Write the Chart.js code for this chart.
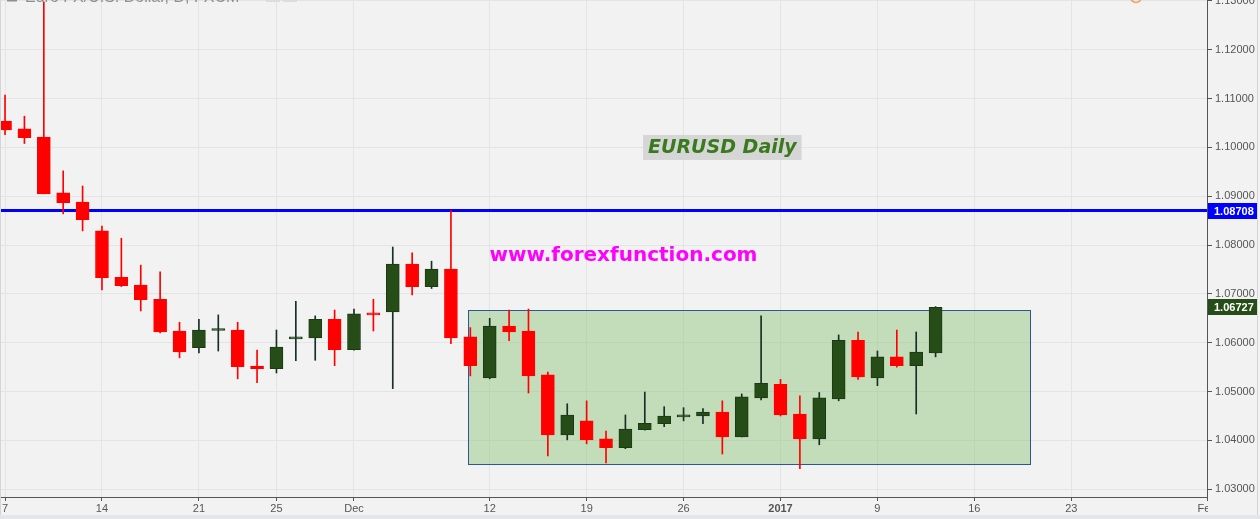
<!DOCTYPE html>
<html>
<head>
<meta charset="utf-8">
<title>EURUSD Daily</title>
<script src="https://cdn.jsdelivr.net/npm/chart.js@4.4.1/dist/chart.umd.min.js"></script>
<style>
    html, body { margin: 0; padding: 0; background: #f2f2f2; overflow: hidden; }
    #wrap { width: 1260px; height: 519px; position: relative; }
</style>
</head>
<body>
<div id="wrap"><canvas id="EurusdChart"></canvas></div>
<script>
// one slot per trading day, 7 Nov 2016 .. 12 Jan 2017
var days = [
    'Nov 7', 'Nov 8', 'Nov 9', 'Nov 10', 'Nov 11',
    'Nov 14', 'Nov 15', 'Nov 16', 'Nov 17', 'Nov 18',
    'Nov 21', 'Nov 22', 'Nov 23', 'Nov 24', 'Nov 25',
    'Nov 28', 'Nov 29', 'Nov 30', 'Dec 1', 'Dec 2',
    'Dec 5', 'Dec 6', 'Dec 7', 'Dec 8', 'Dec 9',
    'Dec 12', 'Dec 13', 'Dec 14', 'Dec 15', 'Dec 16',
    'Dec 19', 'Dec 20', 'Dec 21', 'Dec 22', 'Dec 23',
    'Dec 26', 'Dec 27', 'Dec 28', 'Dec 29', 'Dec 30',
    'Jan 2', 'Jan 3', 'Jan 4', 'Jan 5', 'Jan 6',
    'Jan 9', 'Jan 10', 'Jan 11', 'Jan 12'
];
var opens = [
    1.1054, 1.1038, 1.1021, 1.0907, 1.0888,
    1.0829, 1.0734, 1.0718, 1.0689, 1.0624,
    1.0590, 1.0625, 1.0626, 1.0552, 1.0547,
    1.0608, 1.0610, 1.0648, 1.0586, 1.0658,
    1.0663, 1.0761, 1.0715, 1.0751, 1.0612,
    1.0528, 1.0634, 1.0624, 1.0534, 1.0411,
    1.0440, 1.0403, 1.0385, 1.0422, 1.0434,
    1.0448, 1.0450, 1.0458, 1.0407, 1.0487,
    1.0515, 1.0454, 1.0403, 1.0485, 1.0605,
    1.0528, 1.0571, 1.0553, 1.0579
];
var highs = [
    1.1107, 1.1064, 1.1298, 1.0952, 1.0921,
    1.0839, 1.0814, 1.0759, 1.0745, 1.0642,
    1.0648, 1.0657, 1.0642, 1.0585, 1.0626,
    1.0685, 1.0655, 1.0667, 1.0669, 1.0689,
    1.0796, 1.0784, 1.0767, 1.08708, 1.0631,
    1.0650, 1.0667, 1.0669, 1.0540, 1.0475,
    1.0481, 1.0419, 1.0452, 1.0499, 1.0469,
    1.0467, 1.0465, 1.0481, 1.0495, 1.0655,
    1.0525, 1.0491, 1.0498, 1.0616, 1.0622,
    1.0583, 1.0626, 1.0622, 1.0674
];
var lows = [
    1.1026, 1.1008, 1.0905, 1.0864, 1.0829,
    1.0708, 1.0715, 1.0665, 1.0620, 1.0569,
    1.0579, 1.0583, 1.0526, 1.0518, 1.0538,
    1.0563, 1.0564, 1.0553, 1.0585, 1.0624,
    1.0506, 1.0698, 1.0711, 1.0598, 1.0532,
    1.0526, 1.0604, 1.0497, 1.0368, 1.0401,
    1.0393, 1.0354, 1.0383, 1.0421, 1.0428,
    1.0440, 1.0434, 1.0372, 1.0407, 1.0483,
    1.0450, 1.0342, 1.0391, 1.0481, 1.0525,
    1.0512, 1.0550, 1.0454, 1.0571
];
var closes = [
    1.1036, 1.1020, 1.0905, 1.0887, 1.0852,
    1.0733, 1.0717, 1.0688, 1.0622, 1.0581,
    1.0626, 1.0626, 1.0551, 1.0547, 1.0591,
    1.0612, 1.0648, 1.0586, 1.0659, 1.0657,
    1.0761, 1.0715, 1.0751, 1.0610, 1.0553,
    1.0634, 1.0622, 1.0532, 1.0411, 1.0452,
    1.0401, 1.0385, 1.0423, 1.0435, 1.0450,
    1.0452, 1.0458, 1.0407, 1.0489, 1.0517,
    1.0452, 1.0403, 1.0487, 1.0605, 1.0530,
    1.0571, 1.0553, 1.0581, 1.06727
];
// doji candles that closed down even though open == close on the picture
var downDoji = [19];

var xTickPos = [0, 5, 10, 14, 18, 25, 30, 35, 40, 45, 50, 55, 62];
var xTickLabels = ['7', '14', '21', '25', 'Dec', '12', '19', '26', '2017', '9', '16', '23', 'Feb'];
var yTicks = [1.03, 1.04, 1.05, 1.06, 1.07, 1.08, 1.09, 1.10, 1.11, 1.12, 1.13];

var resistance = 1.08708;
var lastPrice = 1.06727;
// consolidation box: [from slot, to slot, low, high]
var rangeBox = [23.9, 52.9, 1.0351, 1.0667];

var RED = '#ff0000';
var GREEN = '#264d17';

function isUp(i) {
    if (downDoji.indexOf(i) >= 0) return false;
    return closes[i] >= opens[i];
}

var bodyColors = days.map(function (d, i) { return isUp(i) ? GREEN : RED; });
var bodyBorders = days.map(function (d, i) { return isUp(i) ? '#1b3a14' : RED; });
var wickColors = days.map(function (d, i) { return isUp(i) ? '#143028' : RED; });

var overlays = {
    id: 'overlays',
    beforeDraw: function (chart) {
        var ctx = chart.ctx;
        ctx.save();
        ctx.fillStyle = '#f2f2f2';
        ctx.fillRect(0, 0, chart.width, chart.height);
        ctx.fillStyle = '#e3e7eb';
        ctx.fillRect(0, 515, chart.width, chart.height - 515);
        ctx.restore();
    },
    beforeDatasetsDraw: function (chart) {
        var ctx = chart.ctx, x = chart.scales.x, y = chart.scales.y, a = chart.chartArea;
        ctx.save();

        // green range box
        var bx0 = x.getPixelForValue(rangeBox[0]), bx1 = x.getPixelForValue(rangeBox[1]);
        var by0 = y.getPixelForValue(rangeBox[3]), by1 = y.getPixelForValue(rangeBox[2]);
        ctx.fillStyle = 'rgba(125, 187, 100, 0.4)';
        ctx.fillRect(bx0, by0, bx1 - bx0, by1 - by0);
        ctx.strokeStyle = '#2f5597';
        ctx.lineWidth = 1;
        ctx.strokeRect(Math.round(bx0) + 0.5, Math.round(by0) + 0.5, Math.round(bx1 - bx0), Math.round(by1 - by0));

        // resistance line
        var ry = y.getPixelForValue(resistance);
        ctx.strokeStyle = '#0000ff';
        ctx.lineWidth = 3;
        ctx.beginPath();
        ctx.moveTo(a.left, ry);
        ctx.lineTo(a.right, ry);
        ctx.stroke();
        ctx.restore();
    },
    afterDraw: function (chart) {
        var ctx = chart.ctx, x = chart.scales.x, y = chart.scales.y, a = chart.chartArea;
        ctx.save();

        // hide the part of "Feb" that runs under the price scale
        ctx.fillStyle = '#f2f2f2';
        ctx.fillRect(a.right + 1, a.bottom + 1, chart.width - a.right, 514 - a.bottom);

        // price tags on the axis
        [[resistance, '#0000ff'], [lastPrice, GREEN]].forEach(function (t) {
            var ty = Math.round(y.getPixelForValue(t[0]));
            ctx.fillStyle = t[1];
            ctx.fillRect(a.right + 1, ty - 8, 49, 16);
            ctx.fillStyle = '#ffffff';
            ctx.font = 'bold 11px Arial, "Liberation Sans", sans-serif';
            ctx.textAlign = 'left';
            ctx.textBaseline = 'middle';
            ctx.fillText(t[0].toFixed(5), a.right + 7, ty + 1);
        });

        // frame bits
        ctx.fillStyle = '#d5d5d5';
        ctx.fillRect(1257, 0, 1, 515);
        ctx.fillRect(0, 0, 1, 515);

        // clipped header
        ctx.fillStyle = '#8f8f8f';
        ctx.font = '16px Arial, "Liberation Sans", sans-serif';
        ctx.textAlign = 'left';
        ctx.textBaseline = 'alphabetic';
        ctx.fillText('Euro FX/U.S. Dollar, D, FXCM', 25, 2);
        ctx.fillRect(7, 0, 10, 1.5);
        ctx.fillStyle = '#dcdcdc';
        ctx.fillRect(266, 0, 14, 2);
        ctx.fillRect(283, 0, 14, 2);
        ctx.strokeStyle = '#f5a25d';
        ctx.lineWidth = 1.5;
        ctx.beginPath();
        ctx.arc(1136, -3, 5.5, 0, Math.PI * 2);
        ctx.stroke();

        // chart notes
        var lx = x.getPixelForValue(37.0), ly = y.getPixelForValue(1.1001);
        ctx.font = 'italic bold 19px "DejaVu Sans", Verdana, sans-serif';
        ctx.textAlign = 'center';
        ctx.textBaseline = 'middle';
        var w = ctx.measureText('EURUSD Daily').width;
        ctx.fillStyle = '#d6d6d6';
        ctx.fillRect(lx - w / 2 - 5, ly - 12, w + 10, 25);
        ctx.fillStyle = '#3a7a1f';
        ctx.fillText('EURUSD Daily', lx, ly + 1);

        ctx.font = 'bold 20px "DejaVu Sans", Verdana, sans-serif';
        ctx.fillStyle = '#ff00ff';
        ctx.fillText('www.forexfunction.com', x.getPixelForValue(31.9), y.getPixelForValue(1.0779));
        ctx.restore();
    }
};

var init_EurusdChart = {
    type: 'bar',
    data: {
        datasets: [{
            label: 'Wicks',
            data: days.map(function (d, i) { return { x: i, y: [lows[i], highs[i]] }; }),
            backgroundColor: wickColors,
            borderWidth: 0,
            barThickness: 1,
            grouped: false,
            order: 1
        },
        {
            label: 'Bodies',
            data: days.map(function (d, i) { return { x: i, y: [opens[i], closes[i]] }; }),
            backgroundColor: bodyColors,
            borderColor: bodyBorders,
            borderWidth: 1,
            borderSkipped: false,
            barThickness: 13,
            minBarLength: 2,
            grouped: false,
            order: 0
        }]
    },
    options: {
        responsive: true,
        maintainAspectRatio: false,
        animation: false,
        devicePixelRatio: 1,
        layout: { padding: 0 },
        plugins: {
            legend: { display: false },
            tooltip: { enabled: false },
            title: { display: false }
        },
        scales: {
            x: {
                type: 'linear',
                offset: false,
                min: -0.26,
                max: 62,
                afterBuildTicks: function (scale) {
                    scale.ticks = xTickPos.map(function (v) { return { value: v }; });
                },
                afterFit: function (scale) {
                    scale.height = 22;
                    scale.paddingLeft = 0;
                    scale.paddingRight = 0;
                },
                grid: { offset: false, color: '#e4e4e4', tickColor: '#555555', tickLength: 4 },
                border: { color: '#555555' },
                ticks: {
                    autoSkip: false,
                    maxRotation: 0,
                    padding: 1,
                    color: '#555555',
                    font: function (ctx) {
                        var bold = ctx.tick && ctx.tick.value === 40;
                        return { family: 'Arial, "Liberation Sans", sans-serif', size: 11, weight: bold ? 'bold' : 'normal' };
                    },
                    callback: function (v, idx) { return xTickLabels[idx]; }
                }
            },
            y: {
                position: 'right',
                min: 1.0284,
                max: 1.1302,
                afterBuildTicks: function (scale) {
                    scale.ticks = yTicks.map(function (v) { return { value: v }; });
                },
                afterFit: function (scale) {
                    scale.width = 53;
                    scale.paddingTop = 0;
                    scale.paddingBottom = 0;
                },
                grid: { color: '#e4e4e4', tickColor: '#555555', tickLength: 5 },
                border: { color: '#555555' },
                ticks: {
                    padding: 3,
                    color: '#555555',
                    font: { family: 'Arial, "Liberation Sans", sans-serif', size: 11 },
                    callback: function (v) { return v.toFixed(5); }
                }
            }
        }
    },
    plugins: [overlays]
};

var EurusdChart = new Chart(document.getElementById('EurusdChart'), init_EurusdChart);
</script>
</body>
</html>
